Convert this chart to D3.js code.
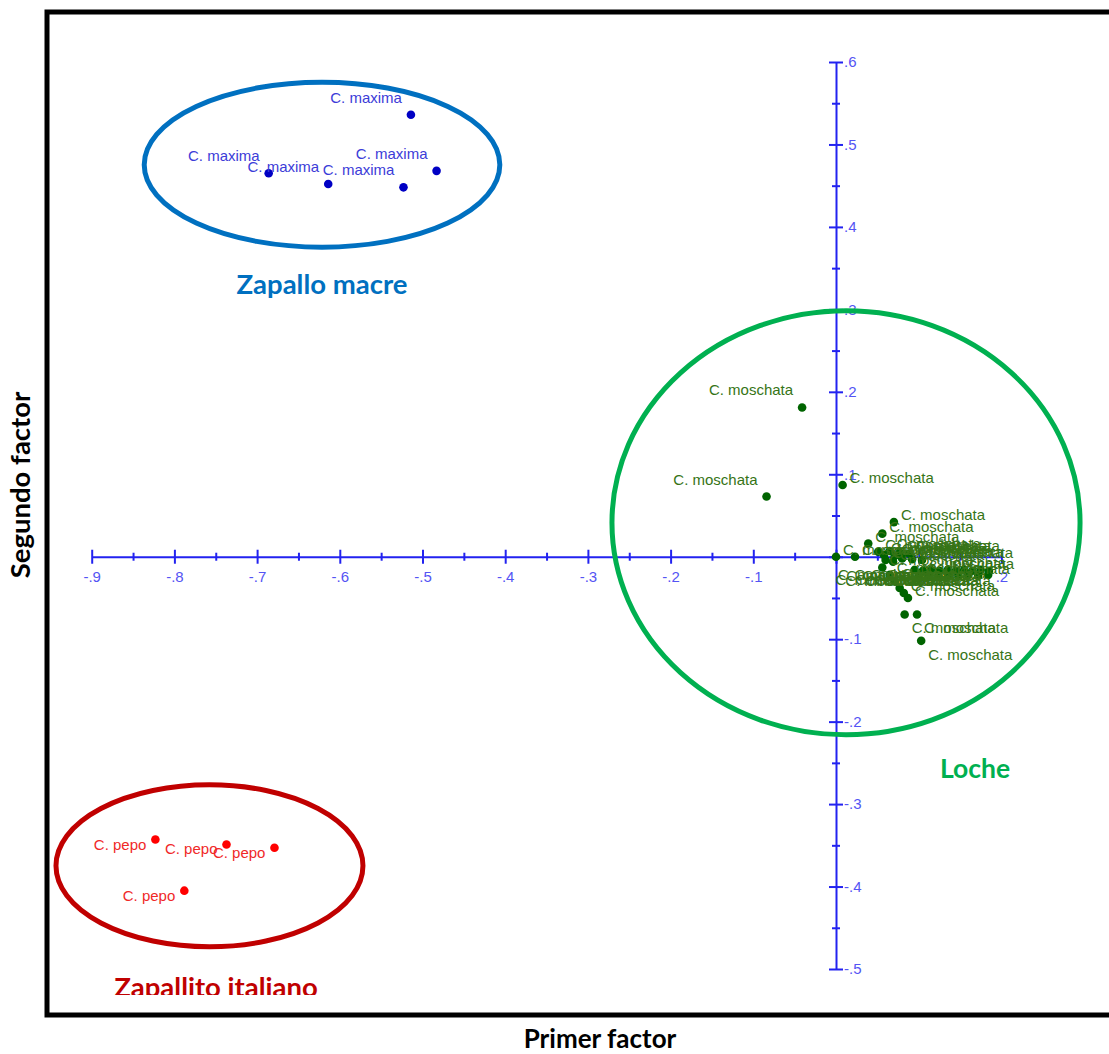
<!DOCTYPE html>
<html>
<head>
<meta charset="utf-8">
<script src="https://cdn.jsdelivr.net/npm/d3@7"></script>
<style>
  body { margin: 0; background: #fff; }
  svg { display: block; }
</style>
</head>
<body>
<div id="chart"></div>
<script>
// chart size
var svgWidth = 1109;
var svgHeight = 1054;

// species point scores (primer factor, segundo factor)
var maximaX = [-0.514, -0.483, -0.523, -0.614, -0.686];
var maximaY = [0.536, 0.468, 0.448, 0.452, 0.465];

var pepoX = [-0.823, -0.737, -0.679, -0.788];
var pepoY = [-0.343, -0.349, -0.353, -0.405];

var moschataX = [-0.041, -0.084, 0.008, 0.070, 0.056, 0.039, 0.000, 0.023,
  0.051, 0.058, 0.065, 0.071, 0.077, 0.060, 0.069, 0.080,
  0.056, 0.065, 0.071, 0.077, 0.082, 0.087,
  0.092, 0.104, 0.088,
  0.095, 0.105, 0.115, 0.125, 0.135, 0.145, 0.155, 0.165, 0.175, 0.185,
  0.100, 0.112, 0.124, 0.136, 0.148, 0.160, 0.172, 0.184,
  0.083, 0.098, 0.103];
var moschataY = [0.181, 0.073, 0.087, 0.042, 0.028, 0.016, 0.000, 0.000,
  0.006, 0.002, 0.007, 0.001, 0.005, -0.004, -0.006, -0.002,
  -0.013, -0.022, -0.030, -0.038, -0.044, -0.050,
  -0.003, -0.004, 0.004,
  -0.016, -0.017, -0.016, -0.017, -0.016, -0.017, -0.016, -0.017, -0.016, -0.017,
  -0.023, -0.022, -0.023, -0.022, -0.023, -0.022, -0.023, -0.022,
  -0.070, -0.070, -0.102];

// tick values
var xTicks = [-0.9, -0.8, -0.7, -0.6, -0.5, -0.4, -0.3, -0.2, -0.1, 0, 0.1, 0.2];
var yTicks = [-0.5, -0.4, -0.3, -0.2, -0.1, 0, 0.1, 0.2, 0.3, 0.4, 0.5, 0.6];
var xMinor = [-0.85, -0.75, -0.65, -0.55, -0.45, -0.35, -0.25, -0.15, -0.05, 0.05, 0.15];
var yMinor = [-0.45, -0.35, -0.25, -0.15, -0.05, 0.05, 0.15, 0.25, 0.35, 0.45, 0.55];

// group ellipses: centre x, centre y, radius x, radius y (data units)
var groupNames = ["Zapallo macre", "Loche", "Zapallito italiano"];
var groupCx = [-0.6215, 0.0121, -0.7576];
var groupCy = [0.4754, 0.0412, -0.3748];
var groupRx = [0.2150, 0.2830, 0.1856];
var groupRy = [0.1000, 0.2570, 0.0982];

var svg = d3.select("#chart").append("svg")
  .attr("width", svgWidth)
  .attr("height", svgHeight);

svg.append("rect")
  .attr("width", svgWidth)
  .attr("height", svgHeight)
  .attr("fill", "#fff");

// scales
var xScale = d3.scaleLinear().domain([-0.9, 0.2]).range([91.7, 1001.4]);
var yScale = d3.scaleLinear().domain([-0.5, 0.6]).range([969, 62]);

var axisColor = "#2222f0";
var tickText = "#5454f4";

// labels like "-.9" and ".6", no label at zero
function fmt(v) {
  if (Math.abs(v) < 1e-9) return "";
  return d3.format(".1f")(v).replace("\u2212", "-").replace("0.", ".");
}

// x axis
var xAxisG = svg.append("g")
  .attr("transform", `translate(0, ${yScale(0)})`)
  .call(d3.axisBottom(xScale).tickValues(xTicks).tickFormat(fmt).tickSize(7).tickSizeOuter(0).tickPadding(8));
xAxisG.selectAll(".tick line").attr("y1", -7);

var xMinorG = svg.append("g")
  .attr("transform", `translate(0, ${yScale(0)})`)
  .call(d3.axisBottom(xScale).tickValues(xMinor).tickFormat("").tickSize(4).tickSizeOuter(0));
xMinorG.selectAll(".tick line").attr("y1", -4);
xMinorG.select(".domain").remove();

// y axis
var yAxisG = svg.append("g")
  .attr("transform", `translate(${xScale(0)}, 0)`)
  .call(d3.axisRight(yScale).tickValues(yTicks).tickFormat(fmt).tickSize(7).tickSizeOuter(0).tickPadding(1));
yAxisG.selectAll(".tick line").attr("x1", -7);

var yMinorG = svg.append("g")
  .attr("transform", `translate(${xScale(0)}, 0)`)
  .call(d3.axisRight(yScale).tickValues(yMinor).tickFormat("").tickSize(4).tickSizeOuter(0));
yMinorG.selectAll(".tick line").attr("x1", -4);
yMinorG.select(".domain").remove();

svg.selectAll(".domain, .tick line")
  .attr("stroke", axisColor)
  .attr("stroke-width", 2);
svg.selectAll(".tick text")
  .attr("fill", tickText)
  .style("font-family", "'Liberation Sans', Arial, sans-serif")
  .style("font-size", "15px");

// points and labels
var labelFont = "'Liberation Sans', Arial, sans-serif";
var labelWidth = 86;

// label goes left of the point when it sits left of the axis
// or would run past the end of the x axis
function labelLeft(d) {
  return d.x < -0.01 || xScale(d.x) + 7 + labelWidth > xScale(0.2) + 20;
}

function drawSpecies(xs, ys, name, dotColor, textColor) {
  var data = xs.map(function(v, i) { return {x: v, y: ys[i]}; });
  var g = svg.append("g");

  g.selectAll("circle")
    .data(data)
    .enter()
    .append("circle")
    .attr("cx", d => xScale(d.x))
    .attr("cy", d => yScale(d.y))
    .attr("r", 4.3)
    .attr("fill", dotColor);

  g.selectAll("text")
    .data(data)
    .enter()
    .append("text")
    .attr("x", d => labelLeft(d) ? xScale(d.x) - 9 : xScale(d.x) + 7)
    .attr("y", function(d) {
      var py = yScale(d.y);
      if (labelLeft(d)) return d.y > 0 ? py - 12 : py + 10;
      return d.y < -0.06 ? py + 19 : py - 2;
    })
    .attr("text-anchor", d => labelLeft(d) ? "end" : "start")
    .style("font-family", labelFont)
    .style("font-size", "15px")
    .attr("fill", textColor)
    .text(name);
}

drawSpecies(maximaX, maximaY, "C. maxima", "#0000c4", "#3c3cd8");
drawSpecies(pepoX, pepoY, "C. pepo", "#ff0000", "#f02828");
drawSpecies(moschataX, moschataY, "C. moschata", "#006400", "#367416");

// group ellipses
var groupColors = ["#0070c0", "#00b050", "#c00000"];
var pxPerUnitX = (xScale(0.2) - xScale(-0.9)) / 1.1;
var pxPerUnitY = (yScale(-0.5) - yScale(0.6)) / 1.1;

svg.append("g").selectAll("ellipse")
  .data(groupNames)
  .enter()
  .append("ellipse")
  .attr("cx", (d, i) => xScale(groupCx[i]))
  .attr("cy", (d, i) => yScale(groupCy[i]))
  .attr("rx", (d, i) => groupRx[i] * pxPerUnitX)
  .attr("ry", (d, i) => groupRy[i] * pxPerUnitY)
  .attr("fill", "none")
  .attr("stroke", (d, i) => groupColors[i])
  .attr("stroke-width", 5);

// group names
var titleFont = "Lato, 'Open Sans', sans-serif";
svg.append("defs").append("clipPath")
  .attr("id", "frameClip")
  .append("rect")
  .attr("x", 0).attr("y", 0)
  .attr("width", svgWidth).attr("height", 995);

svg.append("text")
  .attr("x", xScale(groupCx[0])).attr("y", 294)
  .attr("text-anchor", "middle")
  .style("font-family", titleFont).style("font-weight", "bold").style("font-size", "27.5px")
  .attr("fill", groupColors[0])
  .text(groupNames[0]);

svg.append("text")
  .attr("x", 975).attr("y", 778)
  .attr("text-anchor", "middle")
  .style("font-family", titleFont).style("font-weight", "bold").style("font-size", "26.5px")
  .attr("fill", groupColors[1])
  .text(groupNames[1]);

svg.append("text")
  .attr("x", 216).attr("y", 997)
  .attr("text-anchor", "middle")
  .attr("clip-path", "url(#frameClip)")
  .style("font-family", titleFont).style("font-weight", "bold").style("font-size", "27.5px")
  .attr("fill", groupColors[2])
  .text(groupNames[2]);

// frame
svg.append("rect")
  .attr("x", 47).attr("y", 12)
  .attr("width", svgWidth + 20).attr("height", 1003)
  .attr("fill", "none")
  .attr("stroke", "#000")
  .attr("stroke-width", 5);

// axis titles
svg.append("text")
  .attr("transform", "translate(30, 485) rotate(-90)")
  .attr("text-anchor", "middle")
  .style("font-family", titleFont).style("font-weight", "bold").style("font-size", "27.5px")
  .attr("fill", "#000")
  .text("Segundo factor");

svg.append("text")
  .attr("x", 600).attr("y", 1048)
  .attr("text-anchor", "middle")
  .style("font-family", titleFont).style("font-weight", "bold").style("font-size", "26px")
  .attr("fill", "#000")
  .text("Primer factor");
</script>
</body>
</html>
